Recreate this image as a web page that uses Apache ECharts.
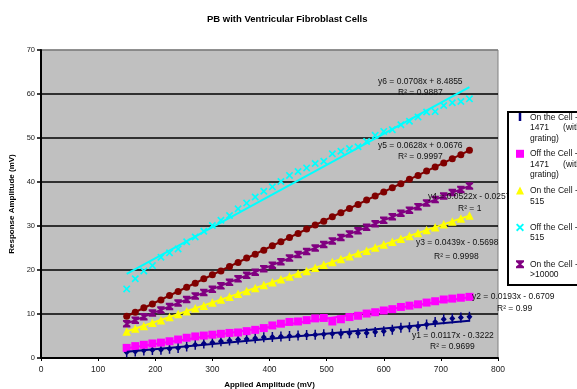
<!DOCTYPE html>
<html>
<head>
<meta charset="utf-8">
<script src="https://cdn.jsdelivr.net/npm/echarts@6/dist/echarts.min.js"></script>
<style>
  html, body { margin: 0; padding: 0; background: #fff; }
  #chart { width: 577px; height: 389px; }
</style>
</head>
<body>
<div id="chart"></div>
<script>
// applied amplitude (mV), same for every series
const appliedAmplitude = [150, 165, 180, 195, 210, 225, 240, 255, 270, 285, 300, 315, 330, 345, 360, 375, 390, 405, 420, 435, 450, 465, 480, 495, 510, 525, 540, 555, 570, 585, 600, 615, 630, 645, 660, 675, 690, 705, 720, 735, 750];

// response amplitude (mV)
const onCell1471 = [1.3, 1.5, 1.7, 1.8, 1.9, 2.1, 2.3, 2.6, 3.0, 3.3, 3.5, 3.8, 4.0, 4.2, 4.3, 4.5, 4.7, 4.8, 4.9, 5.0, 5.1, 5.2, 5.3, 5.4, 5.5, 5.5, 5.6, 5.6, 5.7, 5.9, 6.1, 6.4, 6.9, 7.0, 7.2, 7.6, 8.2, 8.8, 9.0, 9.2, 9.4];
const offCell1471 = [2.3, 2.7, 3.0, 3.3, 3.5, 3.8, 4.2, 4.6, 4.9, 5.1, 5.3, 5.5, 5.7, 5.8, 6.1, 6.4, 6.8, 7.4, 7.8, 8.2, 8.3, 8.6, 9.0, 9.1, 8.3, 8.8, 9.3, 9.6, 10.1, 10.4, 10.8, 11.1, 11.6, 11.9, 12.2, 12.6, 12.9, 13.3, 13.5, 13.7, 13.9];
const onCell515 = [6.0, 6.7, 7.3, 8.0, 8.6, 9.3, 10.0, 10.6, 11.3, 11.9, 12.6, 13.3, 13.9, 14.6, 15.2, 15.9, 16.6, 17.2, 17.9, 18.5, 19.2, 19.8, 20.5, 21.2, 21.8, 22.5, 23.1, 23.8, 24.4, 25.1, 25.8, 26.4, 27.1, 27.7, 28.4, 29.1, 29.7, 30.4, 31.0, 31.7, 32.4];
const offCell515 = [15.7, 18.0, 19.8, 21.0, 22.9, 23.9, 24.8, 26.4, 27.5, 28.8, 30.1, 31.3, 32.4, 33.9, 35.2, 36.6, 37.9, 38.9, 40.1, 41.5, 42.4, 43.2, 44.2, 44.7, 46.4, 47.0, 47.6, 48.0, 49.2, 50.6, 51.5, 51.9, 53.0, 53.8, 54.8, 55.9, 56.0, 57.4, 58.0, 58.3, 58.9];
const onCell10000 = [7.8, 8.6, 9.4, 10.2, 10.9, 11.7, 12.5, 13.3, 14.1, 14.9, 15.6, 16.4, 17.2, 18.0, 18.8, 19.5, 20.3, 21.1, 21.9, 22.7, 23.5, 24.2, 25.0, 25.8, 26.6, 27.4, 28.2, 28.9, 29.7, 30.5, 31.3, 32.1, 32.9, 33.6, 34.4, 35.2, 36.0, 36.8, 37.6, 38.3, 39.1];
const offCell10000 = [9.5, 10.4, 11.4, 12.3, 13.2, 14.2, 15.1, 16.1, 17.0, 18.0, 18.9, 19.8, 20.8, 21.7, 22.7, 23.6, 24.5, 25.5, 26.4, 27.4, 28.3, 29.3, 30.2, 31.1, 32.1, 33.0, 34.0, 34.9, 35.9, 36.8, 37.7, 38.7, 39.6, 40.6, 41.5, 42.5, 43.4, 44.3, 45.3, 46.2, 47.2];

const seriesNames = ['On the Cell - 1471 (with grating)', 'Off the Cell - 1471 (with grating)', 'On the Cell - 515', 'Off the Cell - 515', 'On the Cell - >10000', 'Off the Cell - >10000'];
const seriesValues = [onCell1471, offCell1471, onCell515, offCell515, onCell10000, offCell10000];

// linear trendlines as printed on the chart
const trendSlopes = [0.0117, 0.0193, 0.0439, 0.0708, 0.0522, 0.0628];
const trendIntercepts = [-0.3222, -0.6709, -0.5698, 8.4855, -0.0257, 0.0676];
const trendEquations = ['y1 = 0.0117x - 0.3222', 'y2 = 0.0193x - 0.6709', 'y3 = 0.0439x - 0.5698', 'y6 = 0.0708x + 8.4855', 'y4 = 0.0522x - 0.0257', 'y5 = 0.0628x + 0.0676'];
const trendR2 = ['R\u00b2 = 0.9699', 'R\u00b2 = 0.99', 'R\u00b2 = 0.9998', 'R\u00b2 = 0.9887', 'R\u00b2 = 1', 'R\u00b2 = 0.9997'];

// legend text as wrapped in the original box
const legendLines = [
  ['On the Cell -', '1471      (with', 'grating)'],
  ['Off the Cell -', '1471      (with', 'grating)'],
  ['On the Cell -', '515'],
  ['Off the Cell -', '515'],
  ['On the Cell -', '>10000']
];

const colors = ['#000080', '#ff00ff', '#ffff00', '#00ffff', '#800080', '#800000'];
const FONT = '"Liberation Sans", Arial, sans-serif';

const xShape = 'path://M0,1.6 L1.6,0 L5,3.4 L8.4,0 L10,1.6 L6.6,5 L10,8.4 L8.4,10 L5,6.6 L1.6,10 L0,8.4 L3.4,5 Z';
const starShape = 'path://M0,0 L10,0 L10,2.2 L6.4,5 L10,7.8 L10,10 L0,10 L0,7.8 L3.6,5 L0,2.2 Z';
const tickDiamond = 'path://M4,0 L6,0 L6,3 L9,6 L6,9 L6,12 L4,12 L4,9 L1,6 L4,3 Z';
const symbols = [tickDiamond, 'rect', 'triangle', xShape, starShape, 'circle'];
const symbolSizes = [[6, 10], 8, 8.5, 7.5, 7.5, 7];
const legendIcons = ['path://M0,0 L2.2,0 L2.2,7 L0,7 Z', 'rect', 'triangle', xShape, starShape];

const scatterSeries = seriesNames.map((name, i) => ({
  name: name,
  type: 'scatter',
  data: appliedAmplitude.map((x, j) => [x, seriesValues[i][j]]),
  symbol: symbols[i],
  symbolSize: symbolSizes[i],
  itemStyle: { color: colors[i], opacity: 1 },
  z: 2,
  silent: true
}));

const trendSeries = seriesNames.map((name, i) => {
  const x0 = appliedAmplitude[0];
  const x1 = appliedAmplitude[appliedAmplitude.length - 1];
  return {
    name: 'trend ' + name,
    type: 'line',
    data: [[x0, trendSlopes[i] * x0 + trendIntercepts[i]], [x1, trendSlopes[i] * x1 + trendIntercepts[i]]],
    showSymbol: false,
    lineStyle: { color: colors[i], width: 2 },
    itemStyle: { color: colors[i] },
    z: 3,
    silent: true
  };
});

// where Excel put each trendline label: [eqX, eqY, r2X, r2Y]
const labelSpots = [
  [412, 336, 430, 347],
  [472, 297, 497, 309],
  [416, 243, 434, 257],
  [378, 82, 398, 93],
  [428, 197, 458, 209],
  [378, 146, 398, 157]
];

const graphics = [];
trendEquations.forEach((eq, i) => {
  const p = labelSpots[i];
  graphics.push({ type: 'text', x: p[0], y: p[1], z: 5,
    style: { text: eq, font: '8.5px ' + FONT, fill: '#111', verticalAlign: 'middle' } });
  graphics.push({ type: 'text', x: p[2], y: p[3], z: 5,
    style: { text: trendR2[i], font: '8.5px ' + FONT, fill: '#111', verticalAlign: 'middle' } });
});
graphics.push({ type: 'rect', z: 8,
  shape: { x: 508, y: 112, width: 100, height: 173 },
  style: { fill: '#fff', stroke: '#000', lineWidth: 2 } });
legendLines.forEach((lines, i) => {
  graphics.push({ type: 'text', x: 530, y: 117 + i * 36.8, z: 11,
    style: { text: lines.join('\n'), font: '8.5px ' + FONT, fill: '#111', verticalAlign: 'top', lineHeight: 10.5, y: -5 } });
});

const chart = echarts.init(document.getElementById('chart'), null, { renderer: 'canvas' });
chart.setOption({
  animation: false,
  backgroundColor: '#fff',
  title: {
    text: 'PB with Ventricular Fibroblast Cells',
    left: 207,
    top: 14,
    padding: 0,
    textStyle: { fontFamily: FONT, fontSize: 9.5, fontWeight: 'bold', color: '#000' }
  },
  grid: {
    left: 41, top: 50, width: 457, height: 308,
    show: true, backgroundColor: '#c0c0c0', borderColor: '#808080', borderWidth: 1,
    outerBoundsMode: 'none'
  },
  legend: {
    orient: 'vertical',
    left: 516,
    top: 113,
    padding: 0,
    itemWidth: 8,
    itemHeight: 8,
    itemGap: 28.8,
    selectedMode: false,
    formatter: () => '',
    textStyle: { fontSize: 1 },
    z: 10,
    data: seriesNames.slice(0, 5).map((n, i) => ({ name: n, icon: legendIcons[i] }))
  },
  xAxis: {
    type: 'value', min: 0, max: 800, interval: 100,
    name: 'Applied Amplitude (mV)', nameLocation: 'middle', nameGap: 23,
    nameTextStyle: { fontFamily: FONT, fontSize: 8, fontWeight: 'bold', color: '#000' },
    axisLine: { onZero: false, lineStyle: { color: '#000', width: 2 } },
    axisTick: { show: true, length: 3, lineStyle: { color: '#000', width: 1 } },
    axisLabel: { fontFamily: FONT, fontSize: 8.5, color: '#222', margin: 7 },
    splitLine: { show: false }
  },
  yAxis: {
    type: 'value', min: 0, max: 70, interval: 10,
    name: 'Response Amplitude (mV)', nameLocation: 'middle', nameGap: 24,
    nameTextStyle: { fontFamily: FONT, fontSize: 8, fontWeight: 'bold', color: '#000' },
    axisLine: { show: true, onZero: false, lineStyle: { color: '#000', width: 2 } },
    axisTick: { show: true, length: 4, lineStyle: { color: '#000', width: 1.5 } },
    axisLabel: { fontFamily: FONT, fontSize: 7.5, color: '#222', margin: 6 },
    splitLine: { show: true, lineStyle: { color: ['#000', '#000', '#000', '#000', '#000', '#000', '#000', '#808080'], width: 1.5 } }
  },
  graphic: { elements: graphics },
  series: scatterSeries.concat(trendSeries)
});
</script>
</body>
</html>
